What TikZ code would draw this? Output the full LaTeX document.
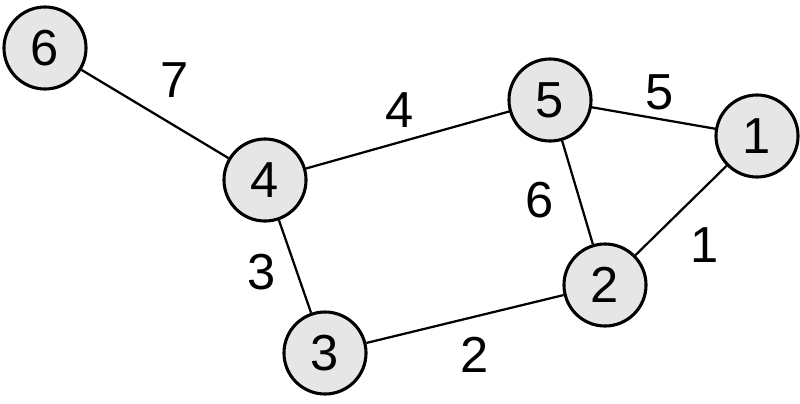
\documentclass[tikz,border=0pt]{standalone}
\usepackage{fontspec}
\setmainfont{Liberation Sans}
\definecolor{nodegrey}{HTML}{E6E6E6}
\tikzset{vertex/.style={circle,draw,line width=2.2pt,fill=nodegrey,minimum size=2.05cm,inner sep=0pt,font=\fontsize{36}{36}\selectfont},
  weight/.style={font=\fontsize{36}{36}\selectfont}}
\begin{document}
\begin{tikzpicture}[x=0.025cm,y=-0.025cm,line width=1.6pt]
\useasboundingbox (0,0) rectangle (800,403);
\node[vertex] (v6) at (45,48) {6};
\node[vertex] (v4) at (265,180) {4};
\node[vertex] (v5) at (550,100) {5};
\node[vertex] (v1) at (757,136) {1};
\node[vertex] (v2) at (605,285) {2};
\node[vertex] (v3) at (325,353) {3};
\draw (v6) -- (v4);
\draw (v4) -- (v5);
\draw (v5) -- (v1);
\draw (v5) -- (v2);
\draw (v1) -- (v2);
\draw (v4) -- (v3);
\draw (v3) -- (v2);
\node[weight] at (175,80) {7};
\node[weight] at (400,110) {4};
\node[weight] at (660,92) {5};
\node[weight] at (540,200) {6};
\node[weight] at (705,245) {1};
\node[weight] at (262,272) {3};
\node[weight] at (475,355) {2};
\end{tikzpicture}
\end{document}
